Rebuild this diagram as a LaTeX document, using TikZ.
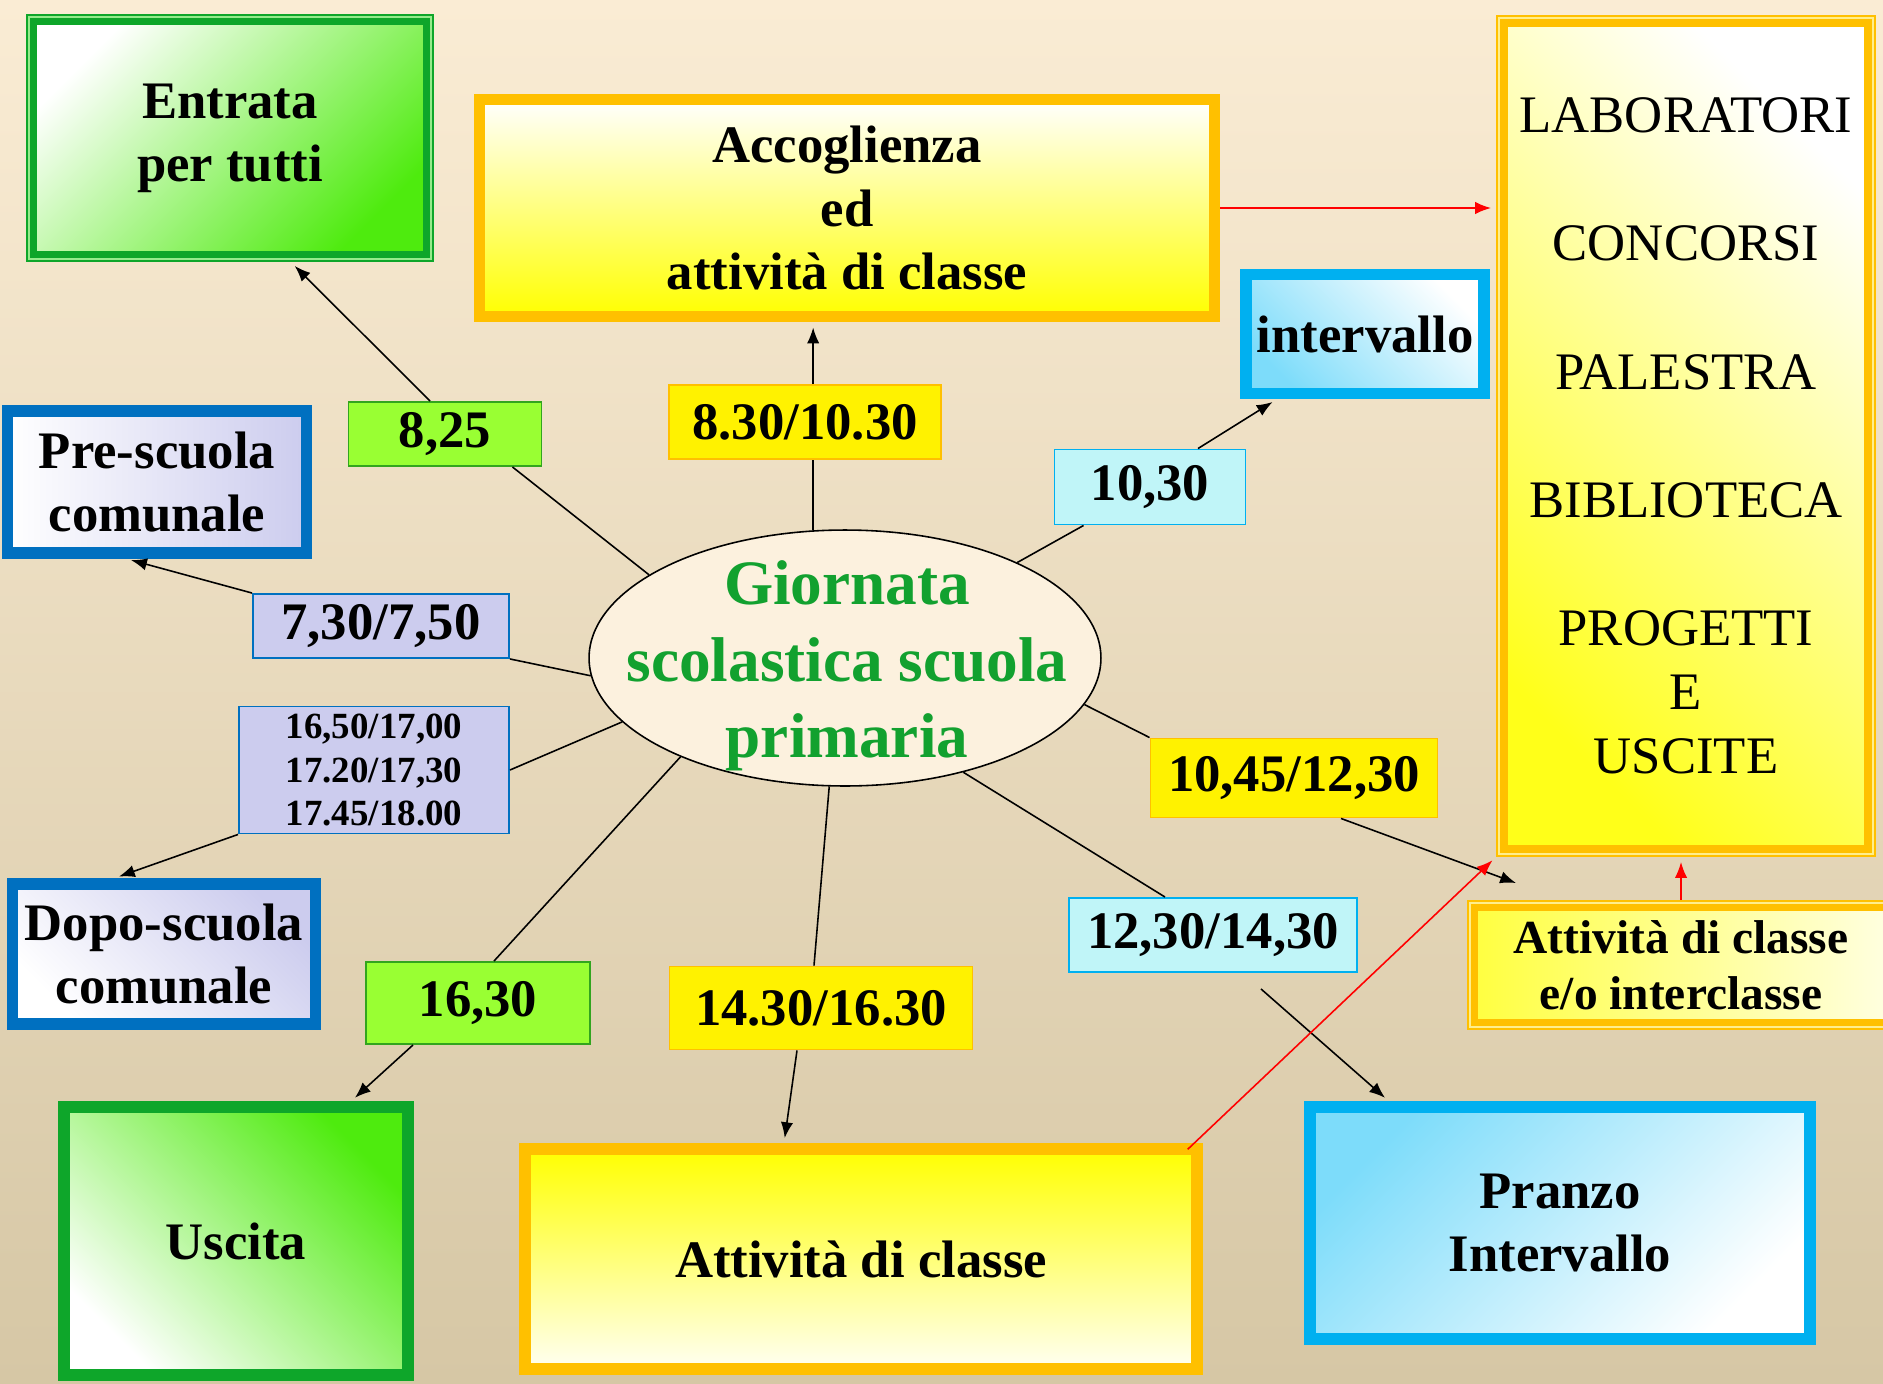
\documentclass[tikz,border=0pt]{standalone}
\usepackage{fontspec}
\setmainfont{Liberation Serif}
\usetikzlibrary{arrows.meta,shapes.geometric}

\definecolor{bgtop}{RGB}{250,236,212}
\definecolor{bgbot}{RGB}{214,199,165}
\definecolor{grborder}{RGB}{14,166,42}
\definecolor{grfill}{RGB}{78,235,14}
\definecolor{grlight}{RGB}{150,235,140}
\definecolor{orborder}{RGB}{255,192,0}
\definecolor{orlight}{RGB}{255,238,140}
\definecolor{cyborder}{RGB}{0,176,240}
\definecolor{cyfill}{RGB}{125,220,250}
\definecolor{cylabel}{RGB}{192,245,248}
\definecolor{blborder}{RGB}{0,112,192}
\definecolor{lavender}{RGB}{204,204,238}
\definecolor{lime}{RGB}{153,255,51}
\definecolor{limeborder}{RGB}{50,165,30}
\definecolor{ellfill}{RGB}{252,241,222}
\definecolor{titlegreen}{RGB}{18,161,47}

\begin{document}
\begin{tikzpicture}[x=0.02cm, y=-0.02cm, line width=0.9pt,
    >={Latex[length=9pt,width=7pt]},
    wh/.style 2 args={minimum width=#1*0.02cm, minimum height=#2*0.02cm},
    box/.style={rectangle, draw, align=center, inner sep=0pt, line width=6.5pt,
        font=\bfseries\fontsize{30}{36}\selectfont},
    tag/.style={rectangle, draw, align=center, inner sep=0pt, line width=1.1pt,
        font=\bfseries\fontsize{30}{36}\selectfont},
    arr/.style={->, shorten >=3pt}]

    \useasboundingbox (0,0) rectangle (1883,1383);
    \clip (0,0) rectangle (1883,1383);
    \shade[top color=bgtop, bottom color=bgbot] (0,0) rectangle (1883,1383);

    % riquadri
    \node[box, draw=grborder, wh={397}{237}, top color=white, bottom color=grfill, shading angle=45] (ent) at (230,138) {Entrata\\per tutti};
    \node[box, draw=orborder, wh={735}{217}, top color=white, bottom color=yellow] (acc) at (847,208) {Accoglienza\\ed\\attività di classe};
    \node[box, draw=orborder, wh={368}{830}, top color=white, bottom color=yellow!90, shading angle=-45,
        font=\fontsize{30}{36.5}\selectfont] (lab) at (1686,436)
        {LABORATORI\\[36.5pt]CONCORSI\\[36.5pt]PALESTRA\\[36.5pt]BIBLIOTECA\\[36.5pt]PROGETTI\\E\\USCITE};
    \node[box, draw=cyborder, wh={238}{119}, top color=white, bottom color=cyfill, shading angle=-45] (intv) at (1365,334) {intervallo};
    \node[box, draw=blborder, wh={299}{142}, left color=white, right color=lavender] (pre) at (157,482) {Pre-scuola\\comunale};
    \node[box, draw=blborder, wh={303}{140}, top color=lavender, bottom color=white, shading angle=-45] (dopo) at (164,954) {Dopo-scuola\\comunale};
    \node[box, draw=grborder, wh={344}{268}, top color=grfill, bottom color=white, shading angle=-45] (usc) at (236,1241) {Uscita};
    \node[box, draw=orborder, wh={672}{220}, top color=yellow, bottom color=yellow!5] (att) at (861,1259) {Attività di classe};
    \node[box, draw=cyborder, wh={500}{232}, top color=cyfill, bottom color=white, shading angle=45] (pra) at (1560,1223) {Pranzo\\Intervallo};
    \node[box, draw=orborder, wh={417}{119}, left color=yellow!75, right color=yellow!12,
        font=\bfseries\fontsize{27}{32}\selectfont] (eo) at (1681,965) {Attività di classe\\e/o interclasse};

    \foreach \n/\c in {ent/grlight, lab/orlight, eo/orlight}
        \draw[\c, line width=1.1pt] ([shift={(3,3)}]\n.north west) rectangle ([shift={(-3,-3)}]\n.south east);

    % centro
    \node[ellipse, draw, fill=ellfill, inner sep=0pt, minimum width=10.24cm, minimum height=5.12cm] (cen) at (845,658) {};
    \node[align=center, text=titlegreen, font=\bfseries\fontsize{36}{43.5}\selectfont] (title) at (847,666) {Giornata\\scolastica scuola\\primaria};

    % orari
    \node[tag, draw=limeborder, fill=lime, wh={193}{64}] (l825) at (445,434) {8,25};
    \node[tag, draw=orborder, fill=yellow, wh={272}{74}] (l830) at (805,422) {8.30/10.30};
    \node[tag, draw=cyborder, fill=cylabel, wh={191}{75}] (l1030) at (1150,487) {10,30};
    \node[tag, draw=blborder, fill=lavender, wh={256}{64}] (l730) at (381,626) {7,30/7,50};
    \node[tag, draw=blborder, fill=lavender, wh={270}{127},
        font=\bfseries\fontsize{21}{25}\selectfont] (l1650) at (374,770) {16,50/17,00\\17.20/17,30\\17.45/18.00};
    \node[tag, draw=orborder, fill=yellow, wh={287}{79}] (l1045) at (1294,778) {10,45/12,30};
    \node[tag, draw=cyborder, fill=cylabel, wh={288}{74}] (l1230) at (1213,935) {12,30/14,30};
    \node[tag, draw=limeborder, fill=lime, wh={224}{82}] (l1630) at (478,1003) {16,30};
    \node[tag, draw=orborder, fill=yellow, wh={303}{83}] (l1430) at (821,1008) {14.30/16.30};
    \coordinate (free) at (1516,883);

    \draw (cen.157) -- ([shift={(-30,0)}]l825.south east);
    \draw[arr] ([shift={(-15,0)}]l825.north) -- ([shift={(61,0)}]ent.south);
    \draw (cen.104) -- (cen.104 |- l830.south);
    \draw[arr] (cen.104 |- l830.north) -- (cen.104 |- acc.south);
    \draw (cen.29) -- ([shift={(30,0)}]l1030.south west);
    \draw[arr] ([shift={(48,0)}]l1030.north) -- ([shift={(-88,0)}]intv.south);
    \draw (cen.184) -- (l730.south east);
    \draw[arr] (l730.north west) -- ([shift={(-31,0)}]pre.south);
    \draw (cen.196) -- (l1650.east);
    \draw[arr] (l1650.south west) -- ([shift={(-50,0)}]dopo.north);
    \draw (cen.211) -- ([shift={(16,0)}]l1630.north);
    \draw[arr] ([shift={(-65,0)}]l1630.south) -- ([shift={(115,0)}]usc.north);
    \draw (cen.263) -- ([shift={(-7,0)}]l1430.north);
    \draw[arr] ([shift={(-24,0)}]l1430.south) -- ([shift={(-77,0)}]att.north);
    \draw (cen.316) -- ([shift={(-48,0)}]l1230.north);
    \draw[arr] ([shift={(48,16)}]l1230.south) -- ([shift={(-171,0)}]pra.north);
    \draw (cen.349) -- (l1045.north west);
    \draw[->] ([shift={(47,0)}]l1045.south) -- (free);

    \draw[arr, red] (acc.east) -- (acc.east -| lab.west);
    \draw[arr, red] ([shift={(-15,6)}]att.north east) -- (lab.south west);
    \draw[arr, red] (eo.north) -- (eo.north |- lab.south);
\end{tikzpicture}
\end{document}
